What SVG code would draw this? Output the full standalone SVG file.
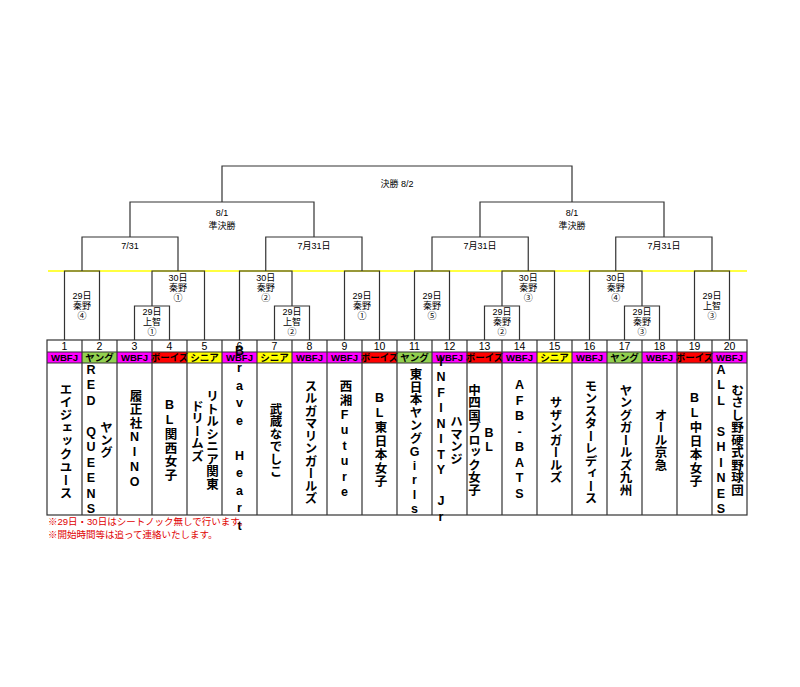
<svg xmlns="http://www.w3.org/2000/svg" width="800" height="687" viewBox="0 0 800 687">
<style>
.l{fill:none;stroke:#333;stroke-width:1.2}
.t{font-family:"Liberation Sans","Noto Sans CJK JP",sans-serif;font-size:9px;fill:#000;text-anchor:middle}
.n{font-family:"Liberation Sans","Noto Sans CJK JP",sans-serif;font-size:10.5px;fill:#000;text-anchor:middle}
.b{font-family:"Liberation Sans","Noto Sans CJK JP",sans-serif;font-size:9.5px;font-weight:bold;fill:#000;text-anchor:middle}
.v{font-family:"Liberation Sans","Noto Sans CJK JP",sans-serif;font-size:12.5px;font-weight:bold;fill:#000;text-anchor:middle;writing-mode:vertical-rl;text-orientation:upright}
.r{font-family:"Liberation Sans","Noto Sans CJK JP",sans-serif;font-size:9.5px;fill:#e00000}
.W{fill:#ff00ff}.Y{fill:#92d050}.B{fill:#ff0000}.S{fill:#ffff00}
</style>
<rect width="800" height="687" fill="#fff"/>
<g id="connectors">
<line x1="48" y1="271" x2="747" y2="271" stroke="#ffff00" stroke-width="1.5"/>
<path class="l" d="M64.5 340V271H99.5V340 M134.5 340V306H169.5V340 M152 306V271H204.5V340 M274.5 340V306H309.5V340 M239.5 340V271H292V306 M344.5 340V271H379.5V340
M414.5 340V271H449.5V340 M484.5 340V306H519.5V340 M502 306V271H554.5V340 M624.5 340V306H659.5V340 M589.5 340V271H642V306 M694.5 340V271H729.5V340
M82 271V237H178V271 M265.75 271V237H362V271 M432 271V237H528.25V271 M615.75 271V237H712V271
M130 237V202H314V237 M480 237V202H664V237 M222 202V166H572V202"/>
</g>
<g id="labels">
<text class="t" x="397" y="187">決勝 8/2</text>
<text class="t" x="222" y="216">8/1</text><text class="t" x="222" y="229">準決勝</text>
<text class="t" x="572" y="216">8/1</text><text class="t" x="572" y="229">準決勝</text>
<text class="t" x="130" y="249">7/31</text>
<text class="t" x="314" y="249">7月31日</text>
<text class="t" x="480" y="249">7月31日</text>
<text class="t" x="664" y="249">7月31日</text>
<g class="t">
<text x="82" y="299">29日</text><text x="82" y="309">秦野</text><text x="82" y="319">④</text>
<text x="152" y="315">29日</text><text x="152" y="325">上智</text><text x="152" y="335">①</text>
<text x="178" y="281">30日</text><text x="178" y="291">秦野</text><text x="178" y="301">①</text>
<text x="265.75" y="281">30日</text><text x="265.75" y="291">秦野</text><text x="265.75" y="301">②</text>
<text x="292" y="315">29日</text><text x="292" y="325">上智</text><text x="292" y="335">②</text>
<text x="362" y="299">29日</text><text x="362" y="309">秦野</text><text x="362" y="319">①</text>
<text x="432" y="299">29日</text><text x="432" y="309">秦野</text><text x="432" y="319">⑤</text>
<text x="502" y="315">29日</text><text x="502" y="325">秦野</text><text x="502" y="335">②</text>
<text x="528.25" y="281">30日</text><text x="528.25" y="291">秦野</text><text x="528.25" y="301">③</text>
<text x="615.75" y="281">30日</text><text x="615.75" y="291">秦野</text><text x="615.75" y="301">④</text>
<text x="642" y="315">29日</text><text x="642" y="325">秦野</text><text x="642" y="335">③</text>
<text x="712" y="299">29日</text><text x="712" y="309">上智</text><text x="712" y="319">③</text>
</g>
</g>
<g id="badges">
<rect class="W" x="47" y="352" width="35" height="11"/><rect class="Y" x="82" y="352" width="35" height="11"/>
<rect class="W" x="117" y="352" width="35" height="11"/><rect class="B" x="152" y="352" width="35" height="11"/>
<rect class="S" x="187" y="352" width="35" height="11"/><rect class="W" x="222" y="352" width="35" height="11"/>
<rect class="S" x="257" y="352" width="35" height="11"/><rect class="W" x="292" y="352" width="35" height="11"/>
<rect class="W" x="327" y="352" width="35" height="11"/><rect class="B" x="362" y="352" width="35" height="11"/>
<rect class="Y" x="397" y="352" width="35" height="11"/><rect class="W" x="432" y="352" width="35" height="11"/>
<rect class="B" x="467" y="352" width="35" height="11"/><rect class="W" x="502" y="352" width="35" height="11"/>
<rect class="S" x="537" y="352" width="35" height="11"/><rect class="W" x="572" y="352" width="35" height="11"/>
<rect class="Y" x="607" y="352" width="35" height="11"/><rect class="W" x="642" y="352" width="35" height="11"/>
<rect class="B" x="677" y="352" width="35" height="11"/><rect class="W" x="712" y="352" width="35" height="11"/>
<g class="b">
<text x="64.5" y="361">WBFJ</text><text x="99.5" y="361">ヤング</text><text x="134.5" y="361">WBFJ</text><text x="169.5" y="361">ボーイズ</text><text x="204.5" y="361">シニア</text>
<text x="239.5" y="361">WBFJ</text><text x="274.5" y="361">シニア</text><text x="309.5" y="361">WBFJ</text><text x="344.5" y="361">WBFJ</text><text x="379.5" y="361">ボーイズ</text>
<text x="414.5" y="361">ヤング</text><text x="449.5" y="361">WBFJ</text><text x="484.5" y="361">ボーイズ</text><text x="519.5" y="361">WBFJ</text><text x="554.5" y="361">シニア</text>
<text x="589.5" y="361">WBFJ</text><text x="624.5" y="361">ヤング</text><text x="659.5" y="361">WBFJ</text><text x="694.5" y="361">ボーイズ</text><text x="729.5" y="361">WBFJ</text>
</g>
<g class="n">
<text x="64.5" y="350">1</text><text x="99.5" y="350">2</text><text x="134.5" y="350">3</text><text x="169.5" y="350">4</text><text x="204.5" y="350">5</text>
<text x="239.5" y="350">6</text><text x="274.5" y="350">7</text><text x="309.5" y="350">8</text><text x="344.5" y="350">9</text><text x="379.5" y="350">10</text>
<text x="414.5" y="350">11</text><text x="449.5" y="350">12</text><text x="484.5" y="350">13</text><text x="519.5" y="350">14</text><text x="554.5" y="350">15</text>
<text x="589.5" y="350">16</text><text x="624.5" y="350">17</text><text x="659.5" y="350">18</text><text x="694.5" y="350">19</text><text x="729.5" y="350">20</text>
</g>
</g>
<g id="table">
<rect class="l" x="47" y="340" width="700" height="175"/>
<path class="l" d="M47 352H747 M47 363H747 M82 340V515 M117 340V515 M152 340V515 M187 340V515 M222 340V515 M257 340V515 M292 340V515 M327 340V515 M362 340V515 M397 340V515 M432 340V515 M467 340V515 M502 340V515 M537 340V515 M572 340V515 M607 340V515 M642 340V515 M677 340V515 M712 340V515"/>
</g>
<g id="teams" class="v">
<text x="64.5" y="441" letter-spacing="0.5">エイジェックユース</text>
<text x="91" y="440" letter-spacing="1.5">RED QUEENS</text><text x="105" y="440">ヤング</text>
<text x="134.5" y="440" letter-spacing="1">履正社NINO</text>
<text x="169.5" y="440" letter-spacing="1">BL関西女子</text>
<text x="211" y="440">リトルシニア関東</text><text x="196" y="431">ドリームズ</text>
<text x="239.5" y="440" letter-spacing="3.5">Brave Heart</text>
<text x="274.5" y="440">武蔵なでしこ</text>
<text x="309.5" y="442">スルガマリンガールズ</text>
<text x="344.5" y="440" letter-spacing="1.5">西湘Future</text>
<text x="379.5" y="440" letter-spacing="1">BL東日本女子</text>
<text x="414.5" y="442" letter-spacing="0.3">東日本ヤングGirls</text>
<text x="441" y="440" letter-spacing="1.5">INFINITY Jr</text><text x="455" y="440">ハマンジ</text>
<text x="473" y="440">中四国ブロック女子</text><text x="489" y="440">BL</text>
<text x="519.5" y="440" letter-spacing="1.5">AFB-BATS</text>
<text x="554.5" y="440">サザンガールズ</text>
<text x="589.5" y="442">モンスターレディース</text>
<text x="624.5" y="440">ヤングガールズ九州</text>
<text x="659.5" y="440">オール京急</text>
<text x="694.5" y="440" letter-spacing="1">BL中日本女子</text>
<text x="721" y="440" letter-spacing="1.5">ALL SHINES</text><text x="736" y="440">むさし野硬式野球団</text>
</g>
<text class="r" x="48" y="525">※29日・30日はシートノック無しで行います。</text>
<text class="r" x="48" y="538">※開始時間等は追って連絡いたします。</text>
</svg>
